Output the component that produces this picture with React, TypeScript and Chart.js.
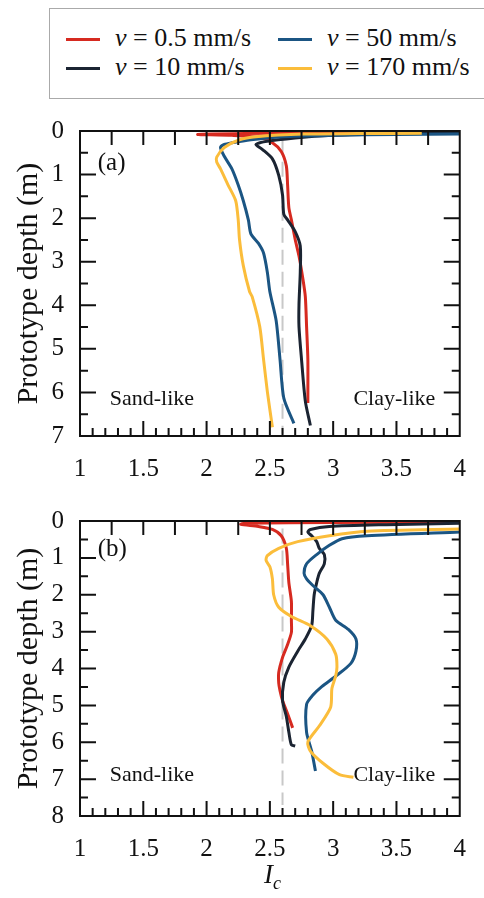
import React, { useEffect, useRef } from "react";
import { Chart, registerables } from "chart.js";

Chart.register(...registerables);

// ---------- tick values ----------
const xTicks = [1, 1.5, 2, 2.5, 3, 3.5, 4];
const yTicksA = [0, 1, 2, 3, 4, 5, 6, 7];
const yTicksB = [0, 1, 2, 3, 4, 5, 6, 7, 8];
const seriesNames = ["0.5 mm/s", "10 mm/s", "50 mm/s", "170 mm/s"];
const seriesColors = ["#d62a20", "#1b2432", "#1b5583", "#fbbd3b"];
const thresholdIc = 2.6;

// ---------- panel (a) ----------
const aRedIc = [4.0, 3.5, 2.8, 2.3, 1.93, 2.2, 2.42, 2.52, 2.59, 2.63, 2.64, 2.65, 2.67, 2.7, 2.73, 2.76, 2.78, 2.79, 2.8, 2.8];
const aRedDepth = [0.03, 0.04, 0.05, 0.06, 0.08, 0.1, 0.15, 0.27, 0.47, 0.8, 1.24, 1.76, 2.04, 2.49, 2.87, 3.38, 3.8, 4.49, 5.24, 6.24];

const aBlackIc = [4.0, 3.5, 3.0, 2.7, 2.45, 2.39, 2.44, 2.52, 2.57, 2.6, 2.61, 2.64, 2.7, 2.74, 2.74, 2.73, 2.73, 2.75, 2.78, 2.82];
const aBlackDepth = [0.02, 0.06, 0.1, 0.16, 0.25, 0.31, 0.42, 0.64, 1.02, 1.47, 1.91, 2.04, 2.31, 2.64, 3.24, 3.98, 4.49, 5.24, 6.2, 6.76];

const aBlueIc = [4.0, 3.5, 3.0, 2.6, 2.35, 2.2, 2.14, 2.11, 2.14, 2.2, 2.25, 2.29, 2.33, 2.35, 2.41, 2.45, 2.48, 2.5, 2.55, 2.58, 2.61, 2.69];
const aBlueDepth = [0.07, 0.08, 0.1, 0.13, 0.2, 0.27, 0.31, 0.38, 0.58, 0.87, 1.24, 1.6, 2.04, 2.36, 2.58, 2.8, 3.24, 3.69, 4.36, 5.24, 6.13, 6.71];

const aYellowIc = [3.7, 3.2, 2.77, 2.39, 2.26, 2.14, 2.08, 2.08, 2.11, 2.17, 2.23, 2.25, 2.26, 2.29, 2.34, 2.36, 2.42, 2.45, 2.48, 2.52];
const aYellowDepth = [0.05, 0.06, 0.07, 0.13, 0.2, 0.38, 0.6, 0.71, 0.87, 1.24, 1.6, 2.04, 2.49, 3.09, 3.69, 3.8, 4.49, 5.24, 5.98, 6.8];

// ---------- panel (b) ----------
const bRedIc = [4.0, 3.0, 2.3, 2.27, 2.41, 2.52, 2.59, 2.63, 2.64, 2.65, 2.67, 2.67, 2.67, 2.64, 2.6, 2.57, 2.57, 2.58, 2.6, 2.64, 2.68];
const bRedDepth = [0.03, 0.04, 0.06, 0.09, 0.15, 0.23, 0.4, 0.74, 1.16, 1.67, 2.18, 2.69, 3.02, 3.35, 3.7, 4.11, 4.4, 4.6, 4.87, 5.23, 5.61];

const bBlackIc = [4.0, 3.42, 2.97, 2.82, 2.8, 2.83, 2.87, 2.89, 2.93, 2.93, 2.89, 2.87, 2.85, 2.84, 2.83, 2.78, 2.72, 2.65, 2.61, 2.6, 2.63, 2.65, 2.67, 2.7];
const bBlackDepth = [0.06, 0.1, 0.15, 0.23, 0.3, 0.4, 0.56, 0.74, 0.91, 1.16, 1.42, 1.67, 2.0, 2.43, 2.84, 3.2, 3.53, 3.96, 4.37, 4.87, 5.3, 5.73, 6.07, 6.1];

const bBlueIc = [4.0, 3.27, 3.07, 2.97, 2.87, 2.79, 2.77, 2.79, 2.84, 2.92, 2.97, 3.02, 3.12, 3.18, 3.18, 3.14, 3.02, 2.91, 2.84, 2.79, 2.79, 2.83, 2.86];
const bBlueDepth = [0.3, 0.4, 0.48, 0.66, 0.91, 1.16, 1.42, 1.57, 1.75, 2.0, 2.34, 2.69, 2.94, 3.2, 3.53, 3.86, 4.21, 4.49, 4.72, 4.97, 5.73, 6.24, 6.78];

const bYellowIc = [4.0, 3.27, 2.97, 2.72, 2.57, 2.48, 2.47, 2.5, 2.52, 2.53, 2.57, 2.67, 2.82, 2.95, 3.02, 3.03, 3.02, 2.99, 2.98, 2.89, 2.8, 2.82, 2.92, 3.05, 3.16];
const bYellowDepth = [0.22, 0.28, 0.4, 0.56, 0.74, 0.94, 1.07, 1.24, 1.57, 2.0, 2.34, 2.59, 2.84, 3.2, 3.61, 3.96, 4.2, 4.54, 5.05, 5.56, 5.99, 6.24, 6.57, 6.88, 6.95];

const aDashDepth = [0.2, 6.95];
const bDashDepth = [0.2, 7.7];

const FONT = '"Liberation Serif", "Times New Roman", serif';

const pts = (xs: number[], ys: number[]) => xs.map((x, i) => ({ x, y: ys[i] }));

const framePlugin = {
  id: "frameTicks",
  afterDatasetsDraw(chart: any) {
    const { ctx, chartArea } = chart;
    const { left, right, top, bottom } = chartArea;
    const xs = chart.scales.x;
    const ys = chart.scales.y;
    const yMax = ys.max;
    ctx.save();
    ctx.strokeStyle = "#111";
    ctx.lineWidth = 2;
    ctx.beginPath();
    for (let i = 1; i < 12; i++) {
      const px = xs.getPixelForValue(1 + i * 0.25);
      ctx.moveTo(px, top);
      ctx.lineTo(px, top + 14);
    }
    for (let i = 1; i < 30; i++) {
      const px = xs.getPixelForValue(1 + i * 0.1);
      const major = i % 5 === 0;
      ctx.moveTo(px, bottom);
      ctx.lineTo(px, bottom - (major ? 15 : 8));
    }
    for (let i = 1; i < yMax * 2; i++) {
      const py = ys.getPixelForValue(i * 0.5);
      const len = i % 2 === 0 ? 16 : 8;
      ctx.moveTo(left, py);
      ctx.lineTo(left + len, py);
      ctx.moveTo(right, py);
      ctx.lineTo(right - len, py);
    }
    ctx.stroke();
    ctx.strokeRect(left, top, right - left, bottom - top);
    ctx.restore();
  },
};

const textPlugin = {
  id: "panelText",
  afterDraw(chart: any, _args: any, opts: any) {
    const { ctx } = chart;
    const xs = chart.scales.x;
    const ys = chart.scales.y;
    ctx.save();
    ctx.fillStyle = "#111";
    ctx.textBaseline = "middle";
    ctx.textAlign = "left";
    ctx.font = `25px ${FONT}`;
    ctx.fillText(opts.label, xs.getPixelForValue(1.14), ys.getPixelForValue(opts.labelDepth));
    ctx.font = `22px ${FONT}`;
    ctx.fillText("Sand-like", xs.getPixelForValue(1.235), ys.getPixelForValue(opts.textDepth));
    ctx.fillText("Clay-like", xs.getPixelForValue(3.16), ys.getPixelForValue(opts.textDepth));
    if (opts.showXTitle) {
      const cx = (chart.chartArea.left + chart.chartArea.right) / 2;
      const cy = chart.height - 22;
      ctx.font = `italic 27px ${FONT}`;
      ctx.textAlign = "right";
      ctx.fillText("I", cx + 3, cy);
      ctx.font = `italic 18px ${FONT}`;
      ctx.textAlign = "left";
      ctx.fillText("c", cx + 3, cy + 8);
    }
    ctx.restore();
  },
};

function makeConfig(
  series: { ic: number[]; depth: number[] }[],
  dashDepth: number[],
  yMax: number,
  yTicks: number[],
  padTop: number,
  xAxisHeight: number,
  panel: any
) {
  const datasets: any[] = [];
  const order = [3, 2, 1, 0];
  order.forEach((k) => {
    datasets.push({
      label: seriesNames[k],
      data: pts(series[k].ic, series[k].depth),
      showLine: true,
      borderColor: seriesColors[k],
      backgroundColor: seriesColors[k],
      borderWidth: 3,
      pointRadius: 0,
      tension: 0.25,
      fill: false,
    });
  });
  datasets.push({
    label: "threshold",
    data: dashDepth.map((d) => ({ x: thresholdIc, y: d })),
    showLine: true,
    borderColor: "#c8c8c8",
    borderWidth: 2,
    borderDash: [15, 7],
    pointRadius: 0,
  });
  return {
    type: "scatter",
    data: { datasets },
    plugins: [framePlugin, textPlugin],
    options: {
      responsive: false,
      animation: false,
      devicePixelRatio: 1,
      layout: { padding: { top: padTop, right: 8, left: 0, bottom: 0 } },
      plugins: {
        legend: { display: false },
        tooltip: { enabled: false },
        panelText: panel,
      },
      scales: {
        x: {
          type: "linear",
          min: 1,
          max: 4,
          grid: { display: false, drawTicks: false },
          border: { display: false },
          afterBuildTicks: (s: any) => {
            s.ticks = xTicks.map((v) => ({ value: v }));
          },
          afterFit: (s: any) => {
            s.height = xAxisHeight;
          },
          ticks: {
            padding: 18,
            color: "#111",
            maxRotation: 0,
            font: { family: FONT, size: 25 },
            callback: (v: any) => String(v),
          },
        },
        y: {
          type: "linear",
          reverse: true,
          min: 0,
          max: yMax,
          grid: { display: false, drawTicks: false },
          border: { display: false },
          afterBuildTicks: (s: any) => {
            s.ticks = yTicks.map((v) => ({ value: v }));
          },
          afterFit: (s: any) => {
            s.width = 80;
          },
          ticks: {
            padding: 16,
            color: "#111",
            font: { family: FONT, size: 25 },
            callback: (v: any) => String(v),
          },
          title: {
            display: true,
            text: "Prototype depth (m)",
            color: "#111",
            font: { family: FONT, size: 30 },
            padding: { top: 11, bottom: 0 },
          },
        },
      },
    },
  };
}

function Panel(props: { config: any; top: number; height: number }) {
  const ref = useRef<HTMLCanvasElement>(null);
  useEffect(() => {
    const chart = new Chart(ref.current as HTMLCanvasElement, props.config);
    return () => chart.destroy();
  }, []);
  return (
    <canvas
      ref={ref}
      width={484}
      height={props.height}
      style={{ position: "absolute", left: 0, top: props.top, width: 484, height: props.height }}
    />
  );
}

const legendItems = [
  { k: 0, left: 66, top: 39 },
  { k: 2, left: 278, top: 39 },
  { k: 1, left: 66, top: 68 },
  { k: 3, left: 278, top: 68 },
];

export default function App() {
  const cfgA = makeConfig(
    [
      { ic: aRedIc, depth: aRedDepth },
      { ic: aBlackIc, depth: aBlackDepth },
      { ic: aBlueIc, depth: aBlueDepth },
      { ic: aYellowIc, depth: aYellowDepth },
    ],
    aDashDepth,
    7,
    yTicksA,
    21,
    54,
    { label: "(a)", labelDepth: 0.75, textDepth: 6.15, showXTitle: false }
  );
  const cfgB = makeConfig(
    [
      { ic: bRedIc, depth: bRedDepth },
      { ic: bBlackIc, depth: bBlackDepth },
      { ic: bBlueIc, depth: bBlueDepth },
      { ic: bYellowIc, depth: bYellowDepth },
    ],
    bDashDepth,
    8,
    yTicksB,
    11,
    82,
    { label: "(b)", labelDepth: 0.76, textDepth: 6.9, showXTitle: true }
  );
  return (
    <div
      style={{
        position: "absolute",
        left: 0,
        top: 0,
        width: 484,
        height: 898,
        overflow: "hidden",
        background: "#fff",
        fontFamily: FONT,
      }}
    >
      <div
        style={{
          position: "absolute",
          left: 49,
          top: 8,
          width: 460,
          height: 91,
          border: "1.5px solid #aaa",
          boxSizing: "border-box",
        }}
      />
      {legendItems.map((it) => (
        <div key={it.k}>
          <div
            style={{
              position: "absolute",
              left: it.left,
              top: it.top - 1.5,
              width: 34,
              height: 3,
              background: seriesColors[it.k],
            }}
          />
          <div
            style={{
              position: "absolute",
              left: it.left + 49,
              top: it.top - 16,
              height: 30,
              lineHeight: "30px",
              fontSize: 26,
              color: "#111",
              whiteSpace: "nowrap",
            }}
          >
            <i>v</i> = {seriesNames[it.k]}
          </div>
        </div>
      ))}
      <Panel config={cfgA} top={100} height={390} />
      <Panel config={cfgB} top={490} height={408} />
    </div>
  );
}
